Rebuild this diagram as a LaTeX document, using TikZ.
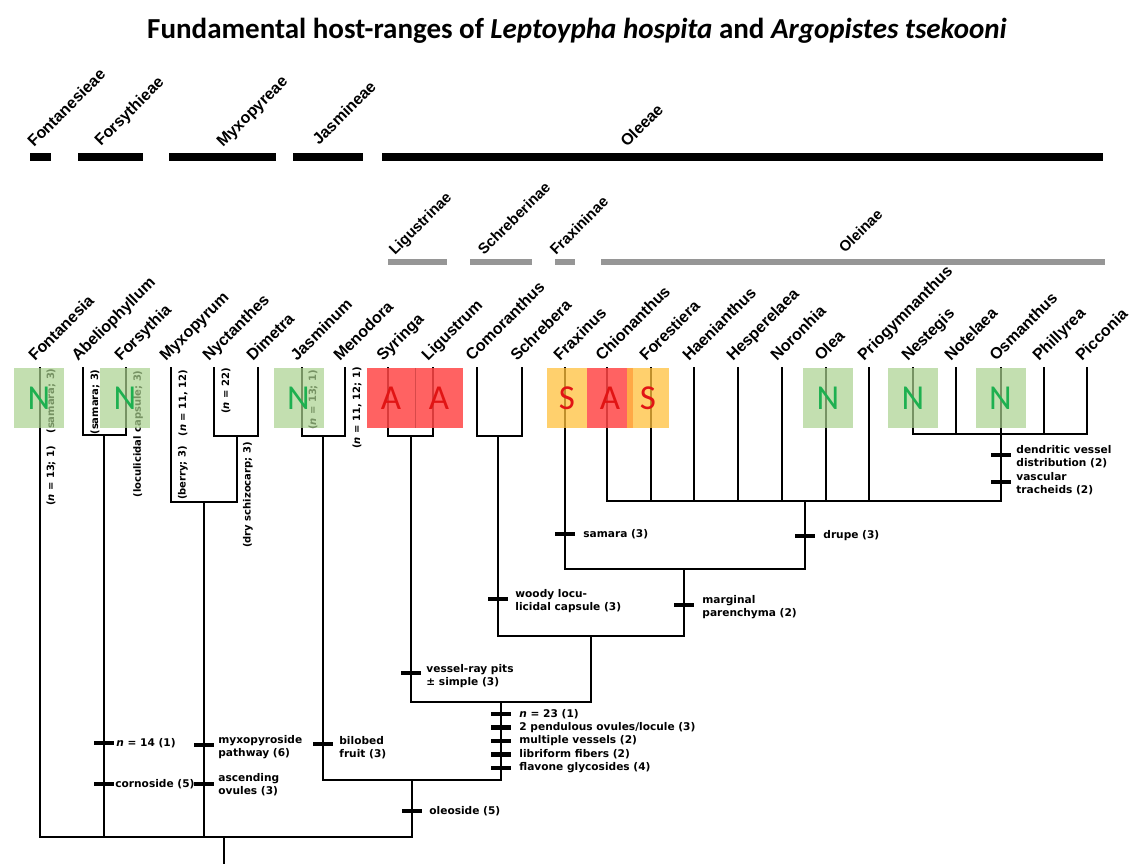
\documentclass[tikz,border=0pt]{standalone}
\usepackage{fontspec}
\setmainfont{Liberation Sans}
\newfontfamily\titlefont{Carlito}
\newfontfamily\labfont{DejaVu Sans}
\newfontfamily\letfont{Carlito}
\definecolor{boxgreen}{RGB}{169,209,142}
\definecolor{letgreen}{RGB}{30,176,80}
\definecolor{boxred}{RGB}{255,70,70}
\definecolor{letred}{RGB}{225,20,20}
\definecolor{boxyellow}{RGB}{255,192,60}
\definecolor{subgray}{RGB}{150,150,150}
\begin{document}
\begin{tikzpicture}[x=1pt,y=-1pt,
  br/.style={line width=2.7pt},
  tickbar/.style={fill=black, inner sep=0pt, minimum width=20pt, minimum height=4.5pt},
  genus/.style={rotate=45, anchor=base west, inner sep=0pt, font=\bfseries\fontsize{16}{16}\selectfont},
  tribe/.style={rotate=45, anchor=base west, inner sep=0pt, font=\bfseries\fontsize{16}{16}\selectfont},
  subtribe/.style={rotate=45, anchor=base west, inner sep=0pt, font=\bfseries\fontsize{15}{15}\selectfont},
  lab/.style={anchor=west, inner sep=0pt, align=left, font=\labfont\bfseries\fontsize{10.6}{13.2}\selectfont},
  vlab/.style={rotate=90, inner sep=0pt, font=\labfont\bfseries\fontsize{10}{10}\selectfont},
  tbar/.style={fill=black, inner sep=0pt, minimum height=8pt},
  sbar/.style={fill=subgray, inner sep=0pt, minimum height=6pt},
  gbox/.style={fill=boxgreen, fill opacity=0.7, inner sep=0pt, minimum width=50pt, minimum height=60pt},
  rbox/.style={fill=boxred, fill opacity=0.85, inner sep=0pt, minimum height=60pt},
  ybox/.style={fill=boxyellow, fill opacity=0.75, inner sep=0pt, minimum height=60pt},
  letN/.style={text=letgreen, font=\letfont\fontsize{35}{35}\selectfont, inner sep=0pt},
  letR/.style={text=letred, font=\letfont\fontsize{35}{35}\selectfont, inner sep=0pt}
]
\useasboundingbox (0,0) rectangle (1137,864);

% title
\node[font=\titlefont\bfseries\fontsize{29}{29}\selectfont] (title) at (577,31)
  {Fundamental host-ranges of \textit{Leptoypha hospita} and \textit{Argopistes tsekooni}};

% tribe bars and labels
\node[tbar, minimum width=21pt] (tbFon) at (40.5,157) {};
\node[tbar, minimum width=65pt] (tbFor) at (110.5,157) {};
\node[tbar, minimum width=107pt] (tbMyx) at (222.5,157) {};
\node[tbar, minimum width=70pt] (tbJas) at (328,157) {};
\node[tbar, minimum width=721pt] (tbOle) at (742.5,157) {};
\node[tribe] (tFon) at (34,148) {Fontanesieae};
\node[tribe] (tFor) at (101,147) {Forsythieae};
\node[tribe] (tMyx) at (223,148) {Myxopyreae};
\node[tribe] (tJas) at (319,146) {Jasmineae};
\node[tribe] (tOle) at (627,148) {Oleeae};

% subtribe bars and labels
\node[sbar, minimum width=59pt] (sbLig) at (417.5,262) {};
\node[sbar, minimum width=62pt] (sbSch) at (501,262) {};
\node[sbar, minimum width=20pt] (sbFra) at (565,262) {};
\node[sbar, minimum width=504pt] (sbOle) at (853,262) {};
\node[subtribe] (sLig) at (395,256) {Ligustrinae};
\node[subtribe] (sSch) at (484,256) {Schreberinae};
\node[subtribe] (sFra) at (556,256) {Fraxininae};
\node[subtribe] (sOle) at (845,254) {Oleinae};

% genera
\foreach \n/\x/\t in {Fon/40/Fontanesia, Abe/83/Abeliophyllum, Fors/126/Forsythia,
  Myx/171/Myxopyrum, Nyc/214/Nyctanthes, Dim/258/Dimetra, Jas/302/Jasminum,
  Men/345/Menodora, Syr/388/Syringa, Lig/433/Ligustrum, Com/477/Comoranthus,
  Sch/522/Schrebera, Fra/565/Fraxinus, Chi/607/Chionanthus, Fore/651/Forestiera,
  Hae/694/Haenianthus, Hes/738/Hesperelaea, Nor/782/Noronhia, Ole/826/Olea,
  Pri/869/Priogymnanthus, Nes/913/Nestegis, Not/956/Notelaea, Osm/1001/Osmanthus,
  Phi/1044/Phillyrea, Pic/1087/Picconia}{
  \coordinate (g\n) at (\x,367);
  \node[genus] (L\n) at (\x-5,362) {\t};
}

% internal nodes
\coordinate (root) at (224,837);
\coordinate (rootEnd) at (224,864);
\coordinate (nAF) at (104,435);
\coordinate (nND) at (237,436);
\coordinate (nMyx) at (204,502);
\coordinate (nJas) at (323,436);
\coordinate (nJO) at (412,780);
\coordinate (nOle) at (501,702);
\coordinate (nLig) at (411,436);
\coordinate (nSch) at (498,436);
\coordinate (nR1) at (591,636);
\coordinate (nR2) at (684,569);
\coordinate (nOlei) at (805,501);
\coordinate (nOsm) at (1001,434);

% tree
\draw[br] (gFon) |- (root) -| (nJO);
\draw[br] (root) -- (rootEnd);
\draw[br] (gAbe) |- (nAF) -| (gFors);
\draw[br] (nAF) -- (nAF |- root);
\draw[br] (gNyc) |- (nND) -| (gDim);
\draw[br] (gMyx) |- (nMyx) -| (nND);
\draw[br] (nMyx) -- (nMyx |- root);
\draw[br] (gJas) |- (nJas) -| (gMen);
\draw[br] (nJas) |- (nJO) -| (nOle);
\draw[br] (gSyr) |- (nLig) -| (gLig);
\draw[br] (nLig) |- (nOle) -| (nR1);
\draw[br] (gCom) |- (nSch) -| (gSch);
\draw[br] (nSch) |- (nR1) -| (nR2);
\draw[br] (gFra) |- (nR2) -| (nOlei);
\draw[br] (gChi) |- (nOlei) -| (nOsm);
\foreach \n in {Fore,Hae,Hes,Nor,Ole,Pri}{
  \draw[br] (g\n) -- (g\n |- nOlei);
}
\draw[br] (gNes) |- (nOsm) -| (gPic);
\draw[br] (gNot) -- (gNot |- nOsm);
\draw[br] (gOsm) -- (nOsm);
\draw[br] (gPhi) -- (gPhi |- nOsm);

% character ticks and labels
\node[tickbar] (k1) at (104,743) {};
\node[lab] (c1) at ([xshift=2pt]k1.east) {\textit{n} = 14 (1)};
\node[tickbar] (k2) at (104,784) {};
\node[lab] (c2) at ([xshift=1pt]k2.east) {cornoside (5)};
\node[tickbar] (k3) at (204,745) {};
\node[lab] (c3) at ([xshift=4pt,yshift=-2pt]k3.east) {myxopyroside\\pathway (6)};
\node[tickbar] (k4) at (204,784) {};
\node[lab] (c4) at ([xshift=4pt,yshift=-1pt]k4.east) {ascending\\ovules (3)};
\node[tickbar] (k5) at (323,744) {};
\node[lab] (c5) at ([xshift=6pt,yshift=-4pt]k5.east) {bilobed\\fruit (3)};
\node[tickbar] (k6) at (412,811) {};
\node[lab] (c6) at ([xshift=7pt]k6.east) {oleoside (5)};
\node[tickbar] (k7) at (411,673) {};
\node[lab] (c7) at ([xshift=5pt,yshift=-3pt]k7.east) {vessel-ray pits\\± simple (3)};
\node[tickbar] (k8) at (498,599) {};
\node[lab] (c8) at ([xshift=7pt,yshift=-2pt]k8.east) {woody locu-\\licidal capsule (3)};
\node[tickbar] (k9) at (684,605) {};
\node[lab] (c9) at ([xshift=8pt,yshift=-2pt]k9.east) {marginal\\parenchyma (2)};
\node[tickbar] (k10) at (565,534) {};
\node[lab] (c10) at ([xshift=8pt]k10.east) {samara (3)};
\node[tickbar] (k11) at (805,536) {};
\node[lab] (c11) at ([xshift=8pt]k11.east) {drupe (3)};
\node[tickbar] (k12) at (1001,455) {};
\node[lab] (c12) at ([xshift=5pt,yshift=-2pt]k12.east) {dendritic vessel\\distribution (2)};
\node[tickbar] (k13) at (1001,482) {};
\node[lab] (c13) at ([xshift=5pt,yshift=-2pt]k13.east) {vascular\\tracheids (2)};
\foreach \i/\y/\t in {1/714/{\textit{n} = 23 (1)}, 2/727.5/{2 pendulous ovules/locule (3)},
  3/741/{multiple vessels (2)}, 4/754.5/{libriform fibers (2)}, 5/768/{flavone glycosides (4)}}{
  \node[tickbar] (m\i) at (501,\y) {};
  \node[lab] (ml\i) at ([xshift=8pt]m\i.east) {\t};
}

% vertical labels
\node[vlab] (v1) at (51,401) {(samara; 3)};
\node[vlab] (v2) at (51,476) {(\textit{n} = 13; 1)};
\node[vlab] (v3) at (95,402) {(samara; 3)};
\node[vlab] (v4) at (138,434) {(loculicidal capsule; 3)};
\node[vlab] (v5) at (183,403) {(\textit{n} = 11, 12)};
\node[vlab] (v6) at (183,473) {(berry; 3)};
\node[vlab] (v7) at (226,391) {(\textit{n} = 22)};
\node[vlab] (v8) at (248,495) {(dry schizocarp; 3)};
\node[vlab] (v9) at (313,400) {(\textit{n} = 13; 1)};
\node[vlab] (v10) at (357,408) {(\textit{n} = 11, 12; 1)};

% host boxes
\node[gbox] (bFon) at (39,398) {};
\node[gbox] (bFors) at (125,398) {};
\node[gbox] (bJas) at (298.5,398) {};
\node[rbox, minimum width=48pt] (bSyr) at (391,398) {};
\node[rbox, minimum width=48pt] (bLig) at (439,398) {};
\draw[boxred!70!black, line width=0.8pt, opacity=0.5] (bSyr.north east) -- (bSyr.south east);
\node[rbox, minimum width=46pt] (bChi) at (610,398) {};
\node[ybox, minimum width=40pt] (bFra) at (567,398) {};
\node[ybox, minimum width=42pt] (bFore) at (648,398) {};
\node[gbox] (bOle) at (828,398) {};
\node[gbox] (bNes) at (913,398) {};
\node[gbox] (bOsm) at (1000.5,398) {};
\node[letN] (xFon) at (bFon) {N};
\node[letN] (xFors) at (bFors) {N};
\node[letN] (xJas) at (bJas) {N};
\node[letR] (xSyr) at (bSyr) {A};
\node[letR] (xLig) at (bLig) {A};
\node[letR] (xFra) at (bFra) {S};
\node[letR] (xChi) at (bChi) {A};
\node[letR] (xFore) at (bFore) {S};
\node[letN] (xOle) at (bOle) {N};
\node[letN] (xNes) at (bNes) {N};
\node[letN] (xOsm) at (bOsm) {N};
\end{tikzpicture}
\end{document}
